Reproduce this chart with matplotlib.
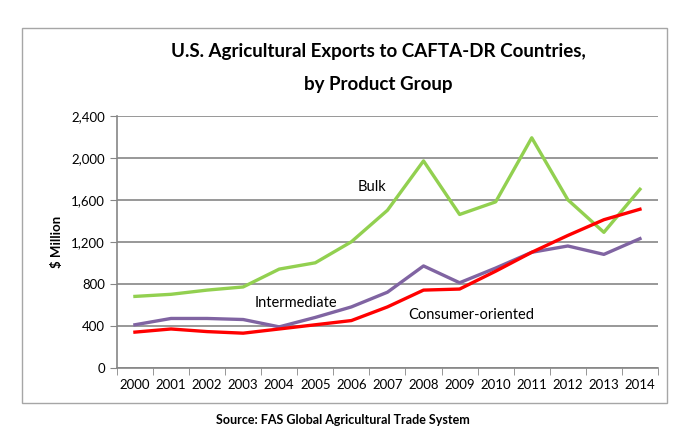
import matplotlib
matplotlib.use("Agg")
import matplotlib.pyplot as plt
from matplotlib.patches import Rectangle
from matplotlib.ticker import FuncFormatter

plt.rcParams['font.family'] = ['Lato', 'DejaVu Sans']

years = ['2000', '2001', '2002', '2003', '2004', '2005', '2006', '2007',
         '2008', '2009', '2010', '2011', '2012', '2013', '2014']
bulk = [680, 700, 740, 770, 940, 1000, 1200, 1500, 1970, 1460, 1580, 2190, 1600, 1290, 1700]
consumer = [340, 370, 345, 330, 370, 410, 450, 580, 740, 750, 920, 1100, 1260, 1410, 1510]
intermediate = [410, 470, 470, 460, 390, 480, 580, 720, 970, 810, 950, 1100, 1160, 1080, 1230]

fig = plt.figure(figsize=(7, 4.4), dpi=100)
ax = fig.add_axes([0.167, 0.164, 0.773, 0.573])

# outer chart border
fig.patches.append(Rectangle((0.031, 0.083), 0.922, 0.853, transform=fig.transFigure,
                             fill=False, edgecolor='#a6a6a6', linewidth=1.0))

x = list(range(len(years)))
ax.plot(x, bulk, color='#92D050', lw=2.4)
ax.plot(x, intermediate, color='#8064A2', lw=2.4)
ax.plot(x, consumer, color='#FF0000', lw=2.4)

ax.text(6.58, 1724, 'Bulk', ha='center', va='center', fontsize=10.5)
ax.text(4.47, 615, 'Intermediate', ha='center', va='center', fontsize=10.5)
ax.text(9.33, 507, 'Consumer-oriented', ha='center', va='center', fontsize=10.5)

ax.set_xlim(-0.5, 14.5)
ax.set_ylim(0, 2400)
ax.set_yticks(range(0, 2401, 400))
ax.yaxis.set_major_formatter(FuncFormatter(lambda v, p: f'{int(v):,}'))
ax.set_xticks(x)
ax.set_xticklabels(years)
ax.set_xticks([i - 0.5 for i in range(len(years) + 1)], minor=True)
ax.tick_params(axis='x', which='major', length=0, labelsize=9.5, pad=8)
ax.tick_params(axis='x', which='minor', length=5, color='#868686')
ax.tick_params(axis='y', length=5, color='#868686', labelsize=9.5)
ax.grid(axis='y', color='#868686', lw=1.2)
ax.set_axisbelow(True)
for s in ['top', 'right']:
    ax.spines[s].set_visible(False)
for s in ['left', 'bottom']:
    ax.spines[s].set_color('#868686')
    ax.spines[s].set_linewidth(1.2)

ax.set_ylabel('$ Million', fontsize=9.5, fontweight='bold', labelpad=6)
fig.text(0.54, 0.882, 'U.S. Agricultural Exports to CAFTA-DR Countries,',
         ha='center', va='center', fontsize=13.5, fontweight='bold')
fig.text(0.54, 0.807, 'by Product Group', ha='center', va='center',
         fontsize=13.5, fontweight='bold')
fig.text(0.49, 0.045, 'Source: FAS Global Agricultural Trade System',
         ha='center', va='center', fontsize=9, fontweight='bold')

fig.savefig('out.png', dpi=100)
